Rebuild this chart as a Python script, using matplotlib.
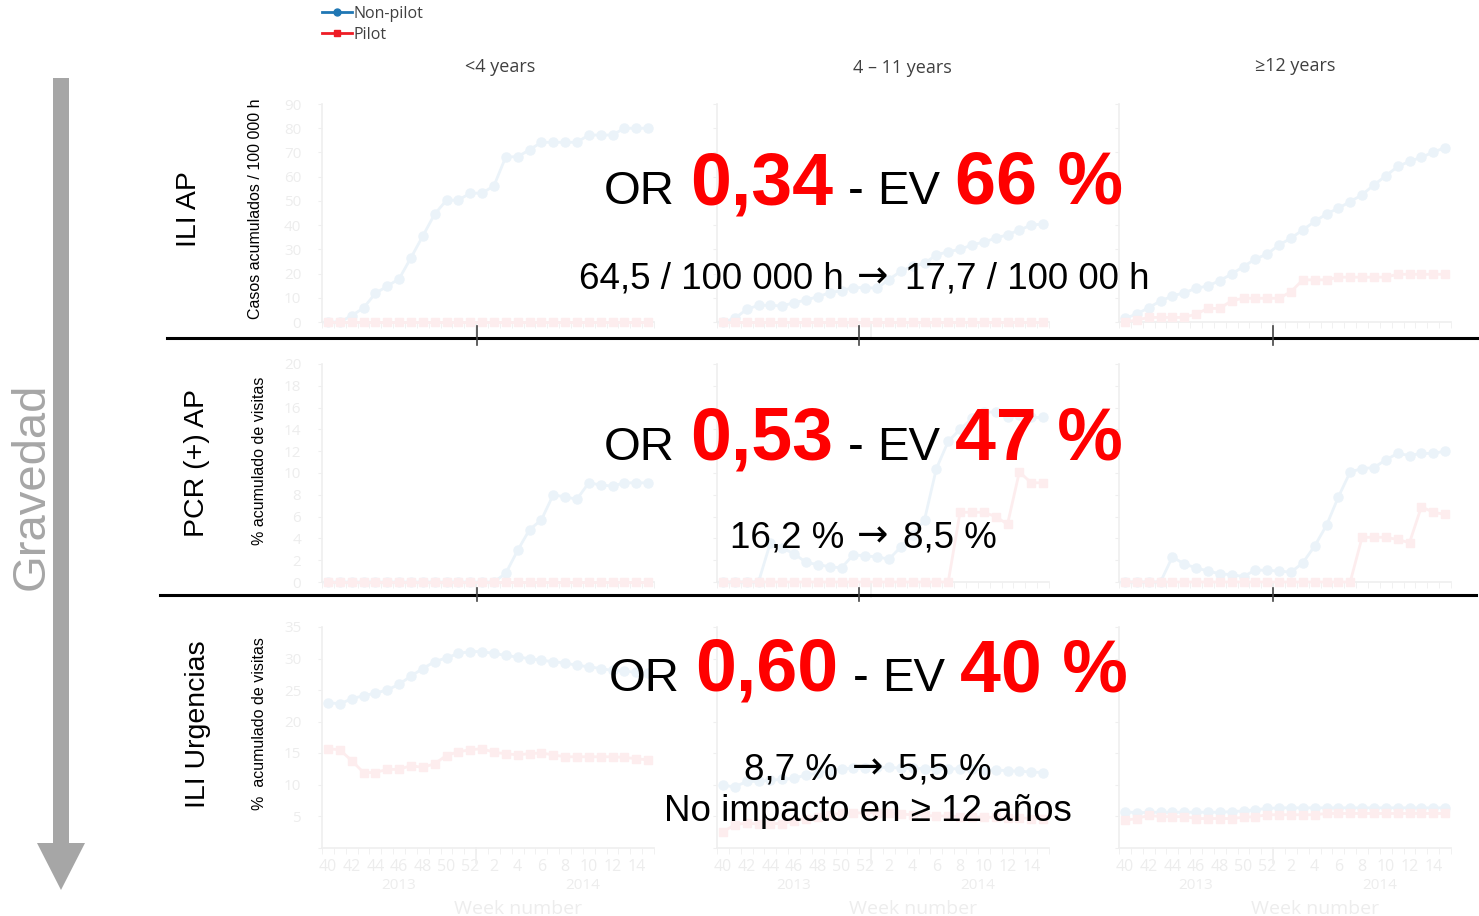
import numpy as np
import matplotlib.pyplot as plt
from matplotlib.patches import Polygon
from matplotlib.lines import Line2D

W, H = 1479, 916

# weeks 40-52 of 2013 and 1-15 of 2014
weeks = [40, 41, 42, 43, 44, 45, 46, 47, 48, 49, 50, 51, 52,
         1, 2, 3, 4, 5, 6, 7, 8, 9, 10, 11, 12, 13, 14, 15]
age_groups = ["<4 years", "4 \u2013 11 years", "\u226512 years"]
row_names = ["ILI AP", "PCR (+) AP", "ILI Urgencias"]
row_ylabels = ["Casos acumulados / 100 000 h", "% acumulado de visitas", "%  acumulado de visitas"]

# ILI AP (cumulative cases / 100 000 h)
ili_lt4_nonpilot = [0, 0, 2.6, 5.8, 11.8, 14.8, 17.8, 26.5, 35.5, 44.5, 50.3, 50.3, 53.2, 53.2,
                    56.2, 68.2, 68.2, 71.1, 74.2, 74.2, 74.2, 74.2, 77.2, 77.2, 77.2, 80.0, 80.0, 80.0]
ili_lt4_pilot = [0, 0, 0, 0, 0, 0, 0, 0, 0, 0, 0, 0, 0, 0,
                 0, 0, 0, 0, 0, 0, 0, 0, 0, 0, 0, 0, 0, 0]
ili_4_11_nonpilot = [0, 1.5, 5.2, 6.9, 6.9, 6.6, 8.0, 9.0, 10.5, 12.0, 13.0, 14.2, 14.2, 14.0,
                     17.5, 21.0, 23.0, 24.2, 27.7, 29.0, 30.0, 31.8, 33.0, 34.6, 36.0, 38.0, 40.0, 40.5]
ili_4_11_pilot = [0, 0, 0, 0, 0, 0, 0, 0, 0, 0, 0, 0, 0, 0,
                  0, 0, 0, 0, 0, 0, 0, 0, 0, 0, 0, 0, 0, 0]
ili_ge12_nonpilot = [1.5, 3.3, 5.9, 8.7, 10.7, 12.1, 13.9, 14.9, 17.1, 19.8, 22.9, 26.0, 28.1, 31.8,
                     34.6, 38.0, 41.5, 44.6, 47.0, 49.7, 52.5, 56.6, 60.3, 64.2, 66.3, 68.0, 70.1, 72.0]
ili_ge12_pilot = [0, 0.8, 1.9, 1.9, 1.9, 1.9, 3.3, 5.6, 5.6, 8.8, 9.8, 9.8, 9.8, 9.8,
                  12.5, 17.4, 17.4, 17.4, 18.5, 18.5, 18.5, 18.5, 18.5, 19.7, 19.7, 19.7, 19.7, 19.7]

# PCR (+) AP (% cumulative visits)
pcr_lt4_nonpilot = [0, 0, 0, 0, 0, 0, 0, 0, 0, 0, 0, 0, 0, 0,
                    0, 0.8, 2.9, 4.8, 5.7, 8.0, 7.8, 7.6, 9.1, 8.9, 8.8, 9.1, 9.1, 9.1]
pcr_lt4_pilot = [0, 0, 0, 0, 0, 0, 0, 0, 0, 0, 0, 0, 0, 0,
                 0, 0, 0, 0, 0, 0, 0, 0, 0, 0, 0, 0, 0, 0]
pcr_4_11_nonpilot = [0, 0, 0, 0, 3.6, 3.1, 2.6, 1.8, 1.6, 1.4, 1.3, 2.5, 2.4, 2.3,
                     2.1, 3.2, 4.3, 5.7, 10.4, 12.9, 14.0, 15.0, 15.6, 15.6, 15.1, 15.3, 15.1, 15.1]
pcr_4_11_pilot = [0, 0, 0, 0, 0, 0, 0, 0, 0, 0, 0, 0, 0, 0,
                  0, 0, 0, 0, 0, 0, 6.4, 6.4, 6.4, 6.0, 5.3, 10.1, 9.1, 9.1]
pcr_ge12_nonpilot = [0, 0, 0, 0, 2.3, 1.65, 1.3, 1.0, 0.76, 0.67, 0.5, 1.1, 1.07, 1.0,
                     0.9, 1.75, 3.3, 5.2, 7.8, 10.1, 10.4, 10.5, 11.2, 11.8, 11.6, 11.8, 11.8, 12.0]
pcr_ge12_pilot = [0, 0, 0, 0, 0, 0, 0, 0, 0, 0, 0, 0, 0, 0,
                  0, 0, 0, 0, 0, 0, 4.1, 4.1, 4.1, 3.9, 3.6, 6.9, 6.4, 6.2]

# ILI Urgencias (% cumulative visits)
urg_lt4_nonpilot = [23.0, 22.8, 23.6, 24.1, 24.5, 25.0, 25.9, 27.2, 28.4, 29.5, 30.1, 30.8, 31.1, 31.1,
                    30.8, 30.5, 30.2, 30.0, 29.7, 29.5, 29.3, 28.9, 28.7, 28.4, 28.1, 28.0, 27.8, 27.7]
urg_lt4_pilot = [15.7, 15.5, 13.8, 11.9, 11.9, 12.4, 12.4, 13.0, 12.7, 13.3, 14.6, 15.2, 15.5, 15.7,
                 15.1, 14.9, 14.7, 14.9, 15.0, 14.7, 14.4, 14.4, 14.4, 14.4, 14.4, 14.3, 14.1, 13.9]
urg_4_11_nonpilot = [9.9, 9.6, 10.5, 10.5, 10.7, 10.8, 11.0, 11.5, 11.8, 12.2, 12.5, 12.6, 12.6, 12.7,
                     12.7, 12.6, 12.6, 12.5, 12.5, 12.5, 12.5, 12.4, 12.3, 12.3, 12.2, 12.1, 12.0, 11.9]
urg_4_11_pilot = [2.5, 3.6, 3.9, 3.7, 3.8, 3.8, 4.2, 4.6, 4.9, 5.2, 5.4, 5.5, 5.5, 5.5,
                  5.4, 5.3, 5.2, 5.1, 5.0, 5.0, 4.9, 4.9, 4.8, 4.8, 4.7, 4.7, 4.6, 4.6]
urg_ge12_nonpilot = [5.7, 5.5, 5.6, 5.6, 5.6, 5.6, 5.6, 5.6, 5.6, 5.7, 5.8, 6.0, 6.2, 6.3,
                     6.3, 6.3, 6.3, 6.3, 6.3, 6.3, 6.3, 6.3, 6.3, 6.3, 6.3, 6.3, 6.3, 6.3]
urg_ge12_pilot = [4.3, 4.6, 5.1, 4.9, 4.9, 4.9, 4.6, 4.6, 4.6, 4.6, 4.8, 4.9, 5.2, 5.2,
                  5.2, 5.2, 5.2, 5.4, 5.4, 5.4, 5.4, 5.4, 5.4, 5.4, 5.4, 5.4, 5.4, 5.4]

# overlay summary text
or_values = ["0,34", "0,53", "0,60"]
ev_values = ["66 %", "47 %", "40 %"]
before_values = ["64,5 / 100 000 h", "16,2 %", "8,7 %"]
after_values = ["17,7 / 100 00 h", "8,5 %", "5,5 %"]
note_text = "No impacto en \u2265 12 a\u00f1os"

BLUE, RED = "#1f77b4", "#ee1c25"
BLUE_F, RED_F = "#ebf3f9", "#fdedee"
AX_F, LAB_F = "#efefef", "#ededed"
GREY = "#a6a6a6"
SANS = ["Liberation Sans", "DejaVu Sans"]
CHART = ["Open Sans", "DejaVu Sans"]

fig = plt.figure(figsize=(W / 100, H / 100), dpi=100)


def fx(x):
    return x / W


def fy(y):
    return 1 - y / H


def put(x, y, s, **kw):
    return fig.text(fx(x), fy(y), s, **kw)


col_px = [(322, 654), (717, 1049), (1119, 1451)]
row_px = [(104, 322), (364, 582), (627, 847.5)]
ylims = [(90, 10), (20, 2), (35, 5)]
data = [
    [(ili_lt4_nonpilot, ili_lt4_pilot), (ili_4_11_nonpilot, ili_4_11_pilot), (ili_ge12_nonpilot, ili_ge12_pilot)],
    [(pcr_lt4_nonpilot, pcr_lt4_pilot), (pcr_4_11_nonpilot, pcr_4_11_pilot), (pcr_ge12_nonpilot, pcr_ge12_pilot)],
    [(urg_lt4_nonpilot, urg_lt4_pilot), (urg_4_11_nonpilot, urg_4_11_pilot), (urg_ge12_nonpilot, urg_ge12_pilot)],
]

idx = np.arange(len(weeks))
tick_pos = [i for i, w in enumerate(weeks) if w % 2 == 0]
tick_lab = [str(weeks[i]) for i in tick_pos]
year_split = weeks.index(1) - 0.5

for r, (y0, y1) in enumerate(row_px):
    ymax, ystep = ylims[r]
    for c, (x0, x1) in enumerate(col_px):
        ax = fig.add_axes([fx(x0), fy(y1), (x1 - x0) / W, (y1 - y0) / H])
        nonpilot, pilot = data[r][c]
        ax.plot(idx, nonpilot, color=BLUE_F, lw=2, marker="o", ms=6.5, clip_on=False, zorder=3)
        ax.plot(idx, pilot, color=RED_F, lw=2, marker="s", ms=6, clip_on=False, zorder=4)
        ax.set_xlim(-0.5, len(weeks) - 0.5)
        ax.set_ylim(0, ymax)
        ax.patch.set_alpha(0)
        for s in ["top", "right"]:
            ax.spines[s].set_visible(False)
        for s in ["left", "bottom"]:
            ax.spines[s].set_color(AX_F)
            ax.spines[s].set_linewidth(1.2)
        yt = np.arange(0, ymax + 0.1, ystep)
        ax.set_yticks(yt)
        if c == 0:
            labs = [f"{v:g}" for v in yt]
            if r == 2:
                labs[0] = ""
            ax.set_yticklabels(labs, fontsize=11, color=LAB_F, family=CHART)
        else:
            ax.set_yticklabels([])
        ax.tick_params(axis="y", length=3, color=AX_F, pad=12)
        ax.set_xticks(tick_pos)
        ax.set_xticks(np.arange(-0.5, len(weeks), 1), minor=True)
        ax.tick_params(axis="x", which="major", length=0, pad=8)
        ax.tick_params(axis="x", which="minor", length=4, color=AX_F)
        ax.plot([year_split, year_split], [0, -0.07], color=AX_F, lw=1.2,
                transform=ax.get_xaxis_transform(), clip_on=False)
        if r == 2:
            ax.set_xticklabels(tick_lab, fontsize=11.5, color=LAB_F, family=CHART)
            ax.annotate("2013", xy=(6, 0), xycoords=("data", "axes fraction"), xytext=(0, -38),
                        textcoords="offset pixels", ha="center", va="center",
                        fontsize=11, color=LAB_F, family=CHART)
            ax.annotate("2014", xy=(21.5, 0), xycoords=("data", "axes fraction"), xytext=(0, -38),
                        textcoords="offset pixels", ha="center", va="center",
                        fontsize=11, color=LAB_F, family=CHART)
            ax.annotate("Week number", xy=(16, 0), xycoords=("data", "axes fraction"), xytext=(0, -61),
                        textcoords="offset pixels", ha="center", va="center",
                        fontsize=14, color=LAB_F, family=CHART)
        else:
            ax.set_xticklabels([])

# legend
handles = [Line2D([], [], color=BLUE, lw=2, marker="o", ms=5),
           Line2D([], [], color=RED, lw=2, marker="s", ms=5)]
fig.legend(handles, ["Non-pilot", "Pilot"], loc="upper left", bbox_to_anchor=(fx(322), fy(6)),
           frameon=False, handlelength=1.9, handletextpad=0.1,
           labelspacing=0.3, borderaxespad=0, borderpad=0, prop={"family": CHART, "size": 11.5},
           labelcolor="#404040")

# column titles
for xc, name, ty in zip([500, 902, 1295], age_groups, [67, 68, 66]):
    put(xc, ty, name, ha="center", va="center", fontsize=13, color="#404040", family=CHART)

# separators and the dark year ticks crossing them
for y, xa, xb in [(338, 167, 1479), (595, 160, 1476)]:
    fig.add_artist(Line2D([fx(xa), fx(xb)], [fy(y), fy(y)], color="black", lw=2.2,
                          transform=fig.transFigure))
for xt in [477, 859, 1273]:
    for ya, yb in [(326, 345), (588, 601)]:
        fig.add_artist(Line2D([fx(xt), fx(xt)], [fy(ya), fy(yb)], color="#444444", lw=1.2,
                              transform=fig.transFigure))

# gravity arrow
arrow = Polygon([(fx(53), fy(78)), (fx(69), fy(78)), (fx(69), fy(843)), (fx(85), fy(843)),
                 (fx(61), fy(890)), (fx(37), fy(843)), (fx(53), fy(843))],
                closed=True, transform=fig.transFigure, facecolor=GREY, edgecolor="none")
fig.add_artist(arrow)
put(32, 486, "Gravedad", rotation=90, ha="center", va="center", fontsize=34, color=GREY, family=SANS)

# row labels and y-axis titles
for name, ylab, xr, yr, xl, yl in zip(row_names, row_ylabels, [189, 197, 198], [209, 463, 724],
                                      [255, 260, 260], [209, 461, 724]):
    put(xr, yr, name, rotation=90, ha="center", va="center", fontsize=20.5, color="black", family=SANS)
    put(xl, yl, ylab, rotation=90, ha="center", va="center", fontsize=11.5, color="black", family=SANS)

# overlay OR / EV text
starts = [(604, 690, 848, 877, 955, 204), (604, 690, 848, 877, 955, 460), (609, 695, 853, 882, 960, 691)]
for (x_or, x_val, x_dash, x_ev, x_pct, yb), orv, evv in zip(starts, or_values, ev_values):
    put(x_or, yb, "OR", fontsize=34, color="black", family=SANS, va="baseline")
    put(x_val, yb, orv, fontsize=53, color="red", weight="bold", family=SANS, va="baseline")
    put(x_dash, yb, "-", fontsize=34, color="black", family=SANS, va="baseline")
    put(x_ev, yb, "EV", fontsize=34, color="black", family=SANS, va="baseline")
    put(x_pct, yb, evv, fontsize=53, color="red", weight="bold", family=SANS, va="baseline")

# before -> after lines
arrow_pos = [(844, 873, 905, 288), (844, 873, 903, 547), (838, 868, 898, 779)]
for (xb, xa, xn, yb), bef, aft in zip(arrow_pos, before_values, after_values):
    put(xb, yb, bef, fontsize=26.5, color="black", family=SANS, ha="right", va="baseline")
    put(xa, yb - 1, "\u2192", fontsize=27, color="black", family=["DejaVu Sans"], ha="center",
        va="baseline")
    put(xn, yb, aft, fontsize=26.5, color="black", family=SANS, ha="left", va="baseline")
put(868, 821, note_text, fontsize=26.5, color="black", family=SANS, ha="center", va="baseline")

fig.savefig("out.png", dpi=100)
